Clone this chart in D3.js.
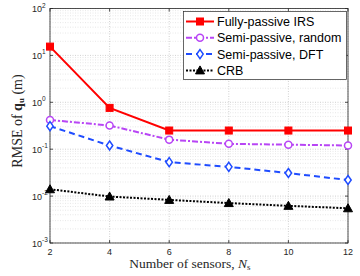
<!DOCTYPE html>
<html>
<head>
<meta charset="utf-8">
<script src="https://cdn.jsdelivr.net/npm/d3@7"></script>
<style>
  body { margin: 0; background: #fff; }
  svg { display: block; }
</style>
</head>
<body>
<svg id="chart" width="360" height="276"></svg>
<script>
// data
const sensors = [2, 4, 6, 8, 10, 12];
const fullyPassive = [15.4, 0.76, 0.25, 0.25, 0.25, 0.25];
const semiRandom = [0.42, 0.32, 0.16, 0.13, 0.125, 0.12];
const semiDFT = [0.31, 0.12, 0.053, 0.042, 0.031, 0.022];
const crb = [0.014, 0.0098, 0.0083, 0.0071, 0.0062, 0.0055];
const yTickExp = [-3, -2, -1, 0, 1, 2];
const legendNames = ["Fully-passive IRS", "Semi-passive, random", "Semi-passive, DFT", "CRB"];

const series = [
  { name: legendNames[0], values: fullyPassive, color: "#ff0000", dash: null, marker: "square" },
  { name: legendNames[1], values: semiRandom, color: "#b845f5", dash: "6,2,2,2", marker: "circle" },
  { name: legendNames[2], values: semiDFT, color: "#1f4cff", dash: "6,4", marker: "diamond" },
  { name: legendNames[3], values: crb, color: "#000000", dash: "2,1.5", marker: "triangle" }
];

const svg = d3.select("#chart");
const m = { left: 50, right: 12, top: 8.5, bottom: 33 };
const W = 360, H = 276;

const x = d3.scaleLinear().domain([2, 12]).range([m.left, W - m.right]);
const y = d3.scaleLog().domain([1e-3, 1e2]).range([H - m.bottom, m.top]);

// grid
const grid = svg.append("g");
const minor = [];
for (let e = -3; e < 2; e++) for (let k = 2; k <= 9; k++) minor.push(k * Math.pow(10, e));
grid.selectAll("line.minor").data(minor).join("line")
  .attr("x1", m.left).attr("x2", W - m.right)
  .attr("y1", d => y(d)).attr("y2", d => y(d))
  .attr("stroke", "#d6d6d6").attr("stroke-width", 0.6).attr("stroke-dasharray", "1,1.5");
grid.selectAll("line.majy").data(yTickExp).join("line")
  .attr("x1", m.left).attr("x2", W - m.right)
  .attr("y1", d => y(Math.pow(10, d))).attr("y2", d => y(Math.pow(10, d)))
  .attr("stroke", "#bdbdbd").attr("stroke-width", 0.7).attr("stroke-dasharray", "1,1.5");
grid.selectAll("line.majx").data(sensors).join("line")
  .attr("y1", m.top).attr("y2", H - m.bottom)
  .attr("x1", d => x(d)).attr("x2", d => x(d))
  .attr("stroke", "#bdbdbd").attr("stroke-width", 0.7).attr("stroke-dasharray", "1,1.5");

// axes box
svg.append("rect")
  .attr("x", m.left).attr("y", m.top)
  .attr("width", W - m.right - m.left).attr("height", H - m.bottom - m.top)
  .attr("fill", "none").attr("stroke", "#262626").attr("stroke-width", 0.8);

// ticks
const tk = svg.append("g").attr("stroke", "#262626").attr("stroke-width", 0.8);
sensors.forEach(s => {
  tk.append("line").attr("x1", x(s)).attr("x2", x(s)).attr("y1", H - m.bottom).attr("y2", H - m.bottom - 3);
  tk.append("line").attr("x1", x(s)).attr("x2", x(s)).attr("y1", m.top).attr("y2", m.top + 3);
});
yTickExp.forEach(e => {
  const yy = y(Math.pow(10, e));
  tk.append("line").attr("x1", m.left).attr("x2", m.left + 3).attr("y1", yy).attr("y2", yy);
  tk.append("line").attr("x1", W - m.right).attr("x2", W - m.right - 3).attr("y1", yy).attr("y2", yy);
});

// tick labels
svg.append("g").selectAll("text").data(sensors).join("text")
  .attr("x", d => x(d)).attr("y", 255)
  .attr("text-anchor", "middle")
  .attr("font-family", "Liberation Sans, Arial, sans-serif").attr("font-size", 9)
  .attr("fill", "#262626")
  .text(d => d);

svg.append("g").selectAll("text").data(yTickExp).join("text")
  .attr("x", m.left - 8).attr("y", d => y(Math.pow(10, d)) + 3.5)
  .attr("text-anchor", "end")
  .attr("font-family", "Liberation Sans, Arial, sans-serif").attr("font-size", 9)
  .attr("fill", "#262626")
  .text("10");
svg.append("g").selectAll("text").data(yTickExp).join("text")
  .attr("x", m.left - 8).attr("y", d => y(Math.pow(10, d)) - 1)
  .attr("font-family", "Liberation Sans, Arial, sans-serif").attr("font-size", 6.5)
  .attr("fill", "#262626")
  .text(d => d);

// axis titles
svg.append("text")
  .attr("x", 190).attr("y", 268)
  .attr("text-anchor", "middle")
  .attr("font-family", "Liberation Serif, Times New Roman, serif").attr("font-size", 13.5)
  .attr("fill", "#262626")
  .call(t => {
    t.append("tspan").text("Number of sensors, ");
    t.append("tspan").attr("font-style", "italic").text("N");
    t.append("tspan").attr("font-size", 9).attr("dy", 2).text("s");
  });

svg.append("text")
  .attr("transform", "translate(22,121) rotate(-90)")
  .attr("text-anchor", "middle")
  .attr("font-family", "Liberation Serif, Times New Roman, serif").attr("font-size", 14)
  .attr("fill", "#262626")
  .call(t => {
    t.append("tspan").text("RMSE of ");
    t.append("tspan").attr("font-weight", "bold").text("q");
    t.append("tspan").attr("font-size", 9).attr("font-weight", "bold").attr("dy", 2).text("u");
    t.append("tspan").attr("dy", -2).text("  (m)");
  });

// markers
function drawMarker(g, type, cx, cy, color) {
  if (type === "square") {
    g.append("rect").attr("x", cx - 3.5).attr("y", cy - 3.5).attr("width", 7).attr("height", 7)
      .attr("fill", color).attr("stroke", color);
  } else if (type === "circle") {
    g.append("circle").attr("cx", cx).attr("cy", cy).attr("r", 3.5)
      .attr("fill", "#fff").attr("stroke", color).attr("stroke-width", 1.5);
  } else if (type === "diamond") {
    g.append("path").attr("d", `M${cx},${cy - 4.5}L${cx + 3.2},${cy}L${cx},${cy + 4.5}L${cx - 3.2},${cy}Z`)
      .attr("fill", "#fff").attr("stroke", color).attr("stroke-width", 1.5);
  } else {
    g.append("path").attr("d", `M${cx},${cy - 4.5}L${cx + 4.5},${cy + 3.5}L${cx - 4.5},${cy + 3.5}Z`)
      .attr("fill", color).attr("stroke", color).attr("stroke-width", 1);
  }
}

const line = d3.line().x((d, i) => x(sensors[i])).y(d => y(d));
series.forEach(s => {
  const g = svg.append("g");
  g.append("path").attr("d", line(s.values))
    .attr("fill", "none").attr("stroke", s.color).attr("stroke-width", 2)
    .attr("stroke-dasharray", s.dash);
  s.values.forEach((v, i) => drawMarker(g, s.marker, x(sensors[i]), y(v), s.color));
});

// legend
const lg = svg.append("g");
lg.append("rect").attr("x", 183.5).attr("y", 11.5).attr("width", 163).attr("height", 68)
  .attr("fill", "#fff").attr("stroke", "#262626").attr("stroke-width", 0.7);
series.forEach((s, i) => {
  const yy = 21.5 + i * 16.3;
  lg.append("line").attr("x1", 186).attr("x2", 214).attr("y1", yy).attr("y2", yy)
    .attr("stroke", s.color).attr("stroke-width", 2).attr("stroke-dasharray", s.dash);
  drawMarker(lg, s.marker, 200, yy, s.color);
  lg.append("text").attr("x", 217).attr("y", yy + 4.5)
    .attr("font-family", "Liberation Sans, Arial, sans-serif").attr("font-size", 12.5)
    .attr("fill", "#000").text(s.name);
});
</script>
</body>
</html>
